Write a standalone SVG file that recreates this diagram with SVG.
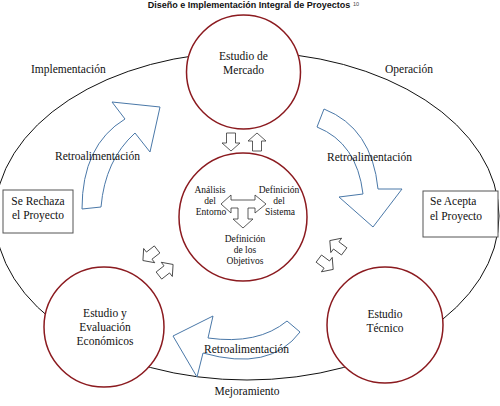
<svg xmlns="http://www.w3.org/2000/svg" width="500" height="406" viewBox="0 0 500 406">
<defs>
<style>
.t{font-family:"Liberation Serif","Times New Roman",serif;font-size:11.5px;fill:#111;}
.s{font-family:"Liberation Serif","Times New Roman",serif;font-size:9.5px;fill:#111;text-anchor:middle;}
.m{text-anchor:middle;}
.c{fill:#fff;stroke:#8b1a1f;stroke-width:1.5;}
.b{fill:#fff;stroke:#555;stroke-width:1;}
.big{fill:#fff;stroke:#4a78a8;stroke-width:1;stroke-linejoin:miter;}
.sm{fill:#fff;stroke:#333;stroke-width:0.8;}
</style>
<path id="sa" d="M-9,-4.5 L1,-4.5 L1,-9 L9,0 L1,9 L1,4.5 L-9,4.5 Z"/>
</defs>
<rect width="500" height="406" fill="#fff"/>
<text x="249" y="8" text-anchor="middle" font-family="Liberation Sans, Arial, sans-serif" font-size="9" font-weight="bold" fill="#111">Diseño e Implementación Integral de Proyectos</text>
<text x="353" y="5.5" font-family="Liberation Sans, Arial, sans-serif" font-size="5.5" fill="#444">10</text>
<g id="ciclo"><ellipse cx="247" cy="216" rx="252" ry="164" fill="none" stroke="#111" stroke-width="1"/></g>
<g id="mercado"><circle class="c" cx="243.5" cy="72" r="57"/><text class="t m" x="243.5" y="60">Estudio de</text><text class="t m" x="243.5" y="74">Mercado</text></g>
<g id="centro"><circle class="c" cx="243" cy="217" r="64"/>
<path fill="#fff" stroke="#333" stroke-width="0.8" d="M221,204 L231,195 L231,200 L255,200 L255,195 L266,204 L255,213 L255,208 L248,208 L248,219 L253,219 L243,228 L233,219 L238,219 L238,208 L231,208 L231,213 Z"/>
<text class="s" x="210" y="193">Análisis</text><text class="s" x="210" y="204">del</text><text class="s" x="211" y="215">Entorno</text>
<text class="s" x="279" y="193">Definición</text><text class="s" x="279" y="204">del</text><text class="s" x="280" y="215">Sistema</text>
<text class="s" x="245" y="242">Definición</text><text class="s" x="245" y="253">de los</text><text class="s" x="245" y="264">Objetivos</text></g>
<g id="economico"><circle class="c" cx="104" cy="327" r="60"/><text class="t m" x="105" y="317">Estudio y</text><text class="t m" x="105" y="331">Evaluación</text><text class="t m" x="105" y="345">Económicos</text></g>
<g id="tecnico"><circle class="c" cx="385" cy="325" r="58"/><text class="t m" x="385" y="318">Estudio</text><text class="t m" x="385" y="332">Técnico</text></g>
<g id="rechaza"><rect class="b" x="3" y="190" width="70" height="43"/><text class="t m" x="38" y="205">Se Rechaza</text><text class="t m" x="38" y="219">el Proyecto</text></g>
<g id="acepta"><rect class="b" x="423" y="191" width="75" height="46"/><text class="t" x="430" y="205">Se Acepta</text><text class="t" x="430" y="220">el Proyecto</text></g>
<g id="connectors">
<path class="big" d="M82,209 L101,207 Q105,160 135,133 L150,152 L160,107 L112,102 L125,119 Q82,145 82,209 Z"/>
<path class="big" d="M324,109 Q372,128 378,189 L402,189 L373,227 L339,197 L363,194 Q357,143 317,127 Z"/>
<path class="big" d="M287,321 Q258,345 208,338 L213,316 L173,336 L197,377 L203,353 Q270,372 300,332 Z"/>
<use href="#sa" class="sm" transform="translate(231,142) rotate(90)"/>
<use href="#sa" class="sm" transform="translate(257,142) rotate(-90)"/>
<use href="#sa" class="sm" transform="translate(150,255) rotate(142)"/>
<use href="#sa" class="sm" transform="translate(166,270) rotate(-38)"/>
<use href="#sa" class="sm" transform="translate(337,246) rotate(217)"/>
<use href="#sa" class="sm" transform="translate(326,264) rotate(37)"/>
</g>
<text class="t" x="31" y="73">Implementación</text>
<text class="t" x="385" y="73">Operación</text>
<text class="t" x="55" y="160">Retroalimentación</text>
<text class="t" x="327" y="161">Retroalimentación</text>
<text class="t" x="204" y="353">Retroalimentación</text>
<text class="t m" x="247" y="395">Mejoramiento</text>
</svg>
